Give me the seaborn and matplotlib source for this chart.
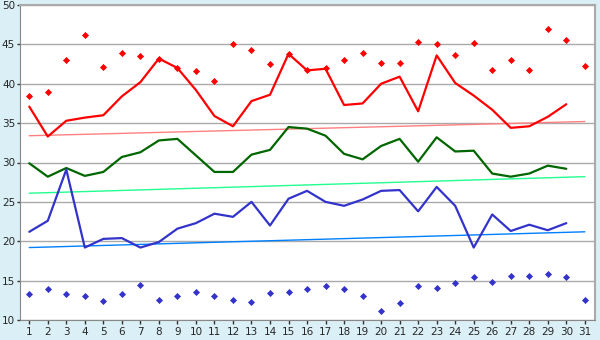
import numpy as np
import pandas as pd
import seaborn as sns
import matplotlib.pyplot as plt

# daily values
days = list(range(1, 32))
max_line = [37.1, 33.3, 35.3, 35.7, 36.0, 38.4, 40.2, 43.2, 42.0, 39.2, 35.9, 34.6, 37.8, 38.6, 43.8,
            41.7, 41.9, 37.3, 37.5, 40.0, 40.9, 36.5, 43.6, 40.1, 38.5, 36.7, 34.4, 34.6, 35.8, 37.4]
mean_line = [29.9, 28.2, 29.3, 28.3, 28.8, 30.7, 31.3, 32.8, 33.0, 30.9, 28.8, 28.8, 31.0, 31.6, 34.5,
             34.3, 33.4, 31.1, 30.4, 32.1, 33.0, 30.1, 33.2, 31.4, 31.5, 28.6, 28.2, 28.6, 29.6, 29.2]
min_line = [21.2, 22.6, 29.1, 19.2, 20.3, 20.4, 19.2, 19.9, 21.6, 22.3, 23.5, 23.1, 25.0, 22.0, 25.4,
            26.4, 25.0, 24.5, 25.3, 26.4, 26.5, 23.8, 26.9, 24.5, 19.2, 23.4, 21.3, 22.1, 21.4, 22.3]
max_record = [38.5, 39.0, 43.0, 46.2, 42.1, 43.9, 43.5, 43.2, 42.0, 41.6, 40.4, 45.0, 44.3, 42.5, 43.8,
              41.8, 42.0, 43.0, 43.9, 42.6, 42.6, 45.3, 45.0, 43.6, 45.2, 41.7, 43.0, 41.8, 47.0, 45.6, 42.3]
min_record = [13.3, 14.0, 13.3, 13.0, 12.4, 13.3, 14.4, 12.6, 13.0, 13.6, 13.0, 12.6, 12.3, 13.4, 13.5,
              13.9, 14.3, 14.0, 13.0, 11.1, 12.2, 14.3, 14.1, 14.7, 15.4, 14.8, 15.6, 15.6, 15.8, 15.4, 12.5]
# trend lines: value at day 1 and day 31
trend_days = [1, 31]
trend_max = [33.4, 35.2]
trend_mean = [26.1, 28.2]
trend_min = [19.2, 21.2]

lines = pd.DataFrame({'day': days[:30], 'max': max_line, 'mean': mean_line, 'min': min_line})
records = pd.DataFrame({'day': days, 'max': max_record, 'min': min_record})
trends = pd.DataFrame({'day': trend_days, 'max': trend_max, 'mean': trend_mean, 'min': trend_min})

sns.set_style('white')
plt.rcParams['font.family'] = ['DejaVu Sans']

fig = plt.figure(figsize=(6, 3.4), dpi=100, facecolor='#daeff6')
ax = fig.add_axes([20 / 600, 20 / 340, 575 / 600, 315 / 340])
ax.set_facecolor('white')

# trend lines
sns.lineplot(data=trends, x='day', y='max', color='#ff8080', lw=1, ax=ax)
sns.lineplot(data=trends, x='day', y='mean', color='#20ff90', lw=1, ax=ax)
sns.lineplot(data=trends, x='day', y='min', color='#0080ff', lw=1, ax=ax)

# daily lines
sns.lineplot(data=lines, x='day', y='max', color='#ff0000', lw=1.6, ax=ax)
sns.lineplot(data=lines, x='day', y='mean', color='#006600', lw=1.6, ax=ax)
sns.lineplot(data=lines, x='day', y='min', color='#3333cc', lw=1.6, ax=ax)

# records
sns.scatterplot(data=records, x='day', y='max', color='#ff0000', marker='D', s=13, linewidth=0, ax=ax)
sns.scatterplot(data=records, x='day', y='min', color='#3333cc', marker='D', s=13, linewidth=0, ax=ax)

ax.set_xlim(0.5, 31.55)
ax.set_ylim(10, 50)
ax.set_xticks(days)
ax.set_yticks(range(10, 51, 5))
ax.set_xlabel('')
ax.set_ylabel('')
ax.yaxis.grid(True, color='#aaaaaa', lw=1)
ax.set_axisbelow(True)
ax.tick_params(axis='x', labelsize=7.5, length=3, width=1, color='#333333', pad=2,
               direction='out', bottom=True)
ax.tick_params(axis='y', labelsize=7.5, length=2.5, width=1, color='#333333', pad=1,
               direction='out', left=True)
for side in ['left', 'bottom']:
    ax.spines[side].set_color('#888888')
for side in ['right', 'top']:
    ax.spines[side].set_color('#aaaaaa')
    ax.spines[side].set_linewidth(1.5)

plt.savefig('out.png', dpi=100, facecolor=fig.get_facecolor())
